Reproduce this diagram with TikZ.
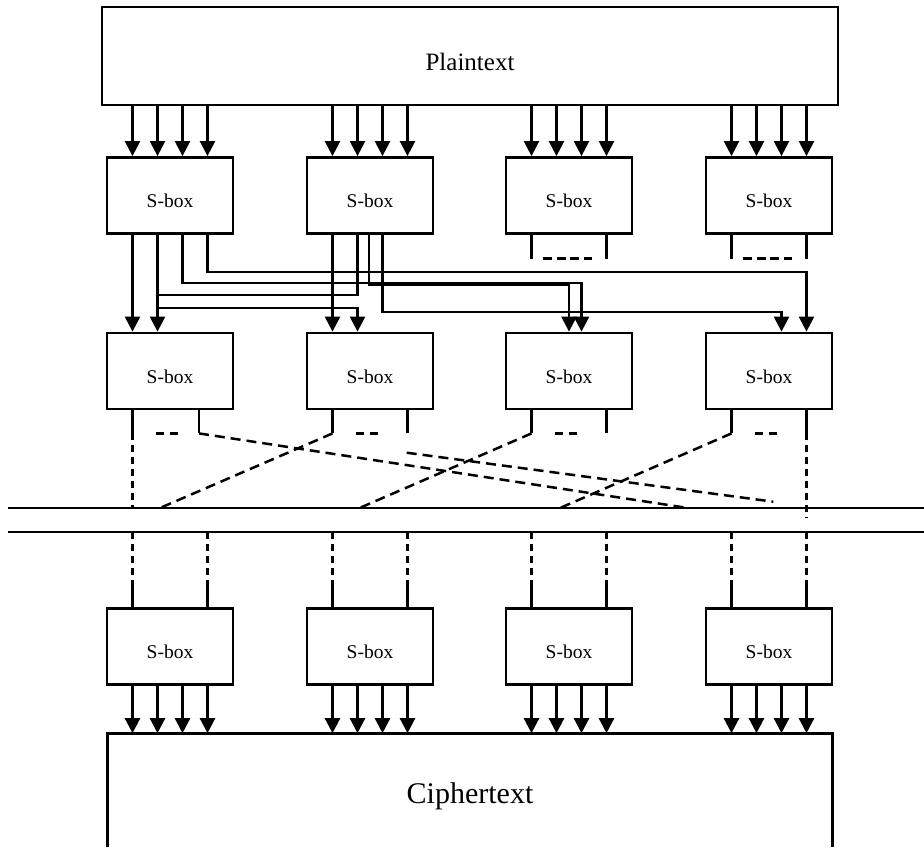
\documentclass[tikz,border=0pt]{standalone}
\usepackage{fontspec}
\setmainfont{Liberation Serif}
\usetikzlibrary{arrows.meta}
\begin{document}
\begin{tikzpicture}[x=1pt,y=-1pt,
  sbox/.style={draw,line width=2.8pt,minimum width=126pt,minimum height=76pt,
    text height=24pt,text depth=0pt,inner sep=0pt,font=\fontsize{19.5}{22}\selectfont},
  wire/.style={line width=2.4pt,-{Triangle[width=15pt,length=15pt]}},
  stub/.style={line width=2.4pt},
  dline/.style={line width=2.5pt,dash pattern=on 10pt off 6pt},
  vdash/.style={line width=2.5pt,dash pattern=on 7pt off 5pt},
  sdash/.style={line width=2.5pt,dash pattern=on 8pt off 6pt},
  rail/.style={line width=2.6pt},
]
\fill[white] (0,0) rectangle (924,847);
\useasboundingbox (0,0) rectangle (924,847);

% plaintext block
\node[draw,line width=2.8pt,minimum width=736pt,minimum height=98pt,
  text height=28pt,text depth=0pt,inner sep=0pt,
  font=\fontsize{25}{30}\selectfont] (pt) at (470,56) {Plaintext};

% three rows of S-boxes
\foreach \x [count=\i] in {170,370,569,769}{
  \node[sbox] (a\i) at (\x,195.5) {S-box};
  \node[sbox] (b\i) at (\x,371) {S-box};
  \node[sbox] (c\i) at (\x,646.3) {S-box};
}

% ciphertext block (open at the bottom)
\node[minimum width=725pt,minimum height=114pt,outer sep=0pt,inner sep=0pt,
  text height=26pt,text depth=0pt,font=\fontsize{30}{36}\selectfont]
  (ct) at (470,790.2) {Ciphertext};
\draw[line width=2.8pt] (ct.south west) -- (ct.north west) -- (ct.north east) -- (ct.south east);

% bit positions on every S-box
\foreach \n in {a1,a2,a3,a4,b1,b2,b3,b4,c1,c2,c3,c4}{
  \foreach \k/\d in {1/-37.5,2/-12.5,3/12.5,4/37.5}{
    \coordinate (\n-o\k) at ([xshift=\d pt]\n.south);
    \coordinate (\n-i\k) at ([xshift=\d pt]\n.north);
  }
}

% plaintext -> first row, last row -> ciphertext
\foreach \i in {1,...,4}{
  \foreach \k in {1,...,4}{
    \draw[wire] (a\i-i\k |- pt.south) -- (a\i-i\k);
    \draw[wire] (c\i-o\k) -- (c\i-o\k |- ct.north);
  }
}

% routing levels of the permutation wires
\coordinate (h272) at (0,272);
\coordinate (h283) at (0,283);
\coordinate (h285) at (0,284.6);
\coordinate (h295) at (0,295);
\coordinate (h308) at (0,308);
\coordinate (h312) at (0,312);

% permutation between row one and row two
\draw[wire] (a1-o1) -- (b1-i1);
\draw[wire] (a1-o2) -- (b1-i2);
\draw[stub] (a2-o2) -- (a2-o2 |- h295) -- (a1-o2 |- h295);
\draw[wire] (a1-o2 |- h308) -| (b2-i2);
\draw[wire] (a1-o3) -- (a1-o3 |- h283) -| (b3-i3);
\draw[wire] (a1-o4) -- (a1-o4 |- h272) -| (b4-i4);
\draw[wire] (a2-o1) -- (b2-i1);
\coordinate (a2-om) at ([xshift=-1pt]a2.south);
\draw[wire] (a2-om) -- (a2-om |- h285) -| (b3.north);
\draw[wire] (a2-o3) -- (a2-o3 |- h312) -| (b4-i3);

% unrouted outputs of S-boxes three and four
\foreach \i in {3,4}{
  \draw[stub] (a\i-o1) -- ++(0,24);
  \draw[stub] (a\i-o4) -- ++(0,24);
  \draw[line width=2.5pt,dash pattern=on 9pt off 4.5pt]
    ([xshift=-26pt]a\i.south) ++(0,23.5) -- ++(49,0);
}

% outputs of row two
\foreach \i in {1,...,4}{
  \draw[stub] (b\i-o1) -- ++(0,23) coordinate (b\i-e1);
  \draw[sdash] ([xshift=-14pt]b\i.south) ++(0,23) -- ++(22,0);
}
\foreach \i in {2,3,4}{
  \draw[stub] (b\i-o4) -- ++(0,23) coordinate (b\i-e4);
}
\coordinate (b1-o5) at ([xshift=29pt]b1.south);
\draw[stub] (b1-o5) -- ++(0,23) coordinate (b1-e5);

% round boundary rails
\coordinate (up-l) at (8,508);
\coordinate (up-r) at (924,508);
\coordinate (lo-l) at (8,532);
\coordinate (lo-r) at (924,532);
\draw[rail] (up-l) -- (up-r);
\draw[rail] (lo-l) -- (lo-r);

% dashed crossing wires
\coordinate (p-end) at (688,508);
\coordinate (q-beg) at (406.7,452.7);
\coordinate (q-end) at (773.3,501.7);
\coordinate (l2-end) at (160,508);
\coordinate (l3-end) at (359.5,508);
\coordinate (l4-end) at (560,508);
\draw[vdash] (b1-e1) -- (b1-e1 |- up-l);
\draw[dline] (b1-e5) -- (p-end);
\draw[dline] (q-beg) -- (q-end);
\draw[dline] (b2-e1) -- (l2-end);
\draw[dline] (b3-e1) -- (l3-end);
\draw[dline] (b4-e1) -- (l4-end);
\draw[vdash] (b4-e4) -- ++(0,85);

% inputs of the last row
\foreach \i in {1,...,4}{
  \foreach \k in {1,4}{
    \draw[vdash] (c\i-i\k |- lo-l) -- ++(0,53);
    \draw[stub] (c\i-i\k) -- ++(0,-23);
  }
}
\end{tikzpicture}
\end{document}
